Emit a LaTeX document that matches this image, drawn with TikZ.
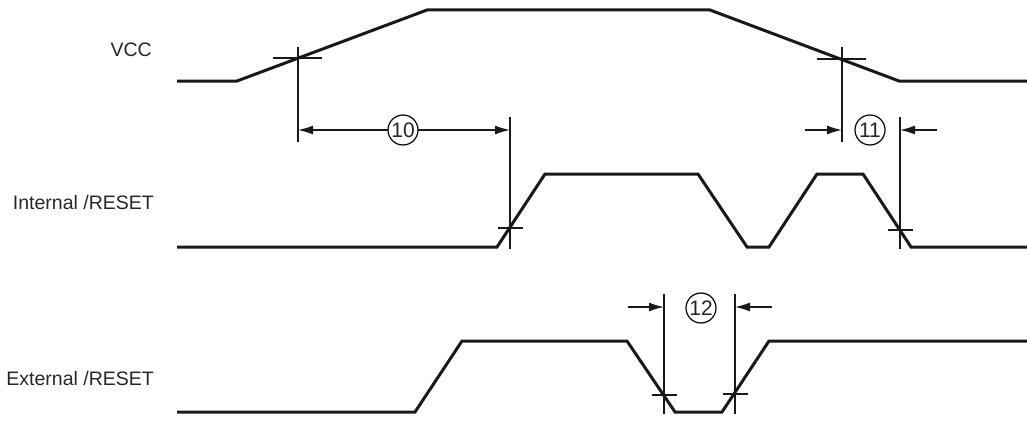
\documentclass[tikz,border=0pt]{standalone}
\usepackage{fontspec}
\setmainfont{Liberation Sans}
\usetikzlibrary{arrows.meta}
\begin{document}
\begin{tikzpicture}[x=1pt,y=-1pt,
  wave/.style={line width=3pt,line join=miter,color=black!90},
  thin/.style={line width=1.3pt,color=black!90},
  dim/.style={line width=1.3pt,color=black!90,-{Latex[length=15pt,width=9pt]}},
  dimboth/.style={line width=1.3pt,color=black!90,{Latex[length=15pt,width=9pt]}-{Latex[length=15pt,width=9pt]}},
  lbl/.style={anchor=east,inner sep=0pt,font=\fontsize{19.5}{22}\selectfont,text=black!85},
  num/.style={circle,draw,line width=1.2pt,fill=white,minimum size=30pt,inner sep=0pt,font=\fontsize{21}{22}\selectfont,text=black!85}]
\useasboundingbox (0,0) rectangle (1027,420);
% labels
\node[lbl] (lvcc) at (152,50) {VCC};
\node[lbl] (lint) at (154,203) {Internal /RESET};
\node[lbl] (lext) at (154,379) {External /RESET};
% waveforms
\draw[wave] (177,81)--(237,81)--(427,10)--(710,10)--(899,81)--(1027,81);
\draw[wave] (177,247)--(497,247)--(545,174)--(698,174)--(747,247)--(769,247)--(817,174)--(863,174)--(911,247)--(1027,247);
\draw[wave] (177,412)--(415,412)--(462,341)--(627,341)--(675,412)--(722,412)--(769,341)--(1027,341);
% reference coordinates
\coordinate (a1) at (298,58);
\coordinate (a2) at (842,59);
\coordinate (b1) at (510,228);
\coordinate (b2) at (900,230);
\coordinate (c1) at (664,395);
\coordinate (c2) at (735,394);
% tick marks
\draw[thin] ([xshift=-25pt]a1)--([xshift=24pt]a1);
\draw[thin] ([xshift=-25pt]a2)--([xshift=24pt]a2);
\draw[thin] ([xshift=-12pt]b1)--([xshift=13pt]b1);
\draw[thin] ([xshift=-12pt]b2)--([xshift=13pt]b2);
\draw[thin] ([xshift=-12pt]c1)--([xshift=13pt]c1);
\draw[thin] ([xshift=-12pt]c2)--([xshift=13pt]c2);
% extension lines
\draw[thin] (298,47)--(298,142);
\draw[thin] (842,47)--(842,142);
\draw[thin] (510,117)--(510,249);
\draw[thin] (900,117)--(900,249);
\draw[thin] (664,294)--(664,414);
\draw[thin] (735,294)--(735,414);
% dimension 10
\coordinate (d10l) at (298,130);
\coordinate (d10r) at (510,130);
\draw[dimboth] (d10l)--(d10r);
\node[num] (n10) at (403,130) {10};
% dimension 11
\coordinate (d11a) at (805,130);
\coordinate (d11b) at (842,130);
\coordinate (d11c) at (937,130);
\coordinate (d11d) at (900,130);
\draw[dim] (d11a)--(d11b);
\draw[dim] (d11c)--(d11d);
\node[num] (n11) at (870,130) {11};
% dimension 12
\coordinate (d12a) at (628,307);
\coordinate (d12b) at (664,307);
\coordinate (d12c) at (772,307);
\coordinate (d12d) at (735,307);
\draw[dim] (d12a)--(d12b);
\draw[dim] (d12c)--(d12d);
\node[num] (n12) at (701,308) {12};
\end{tikzpicture}
\end{document}
